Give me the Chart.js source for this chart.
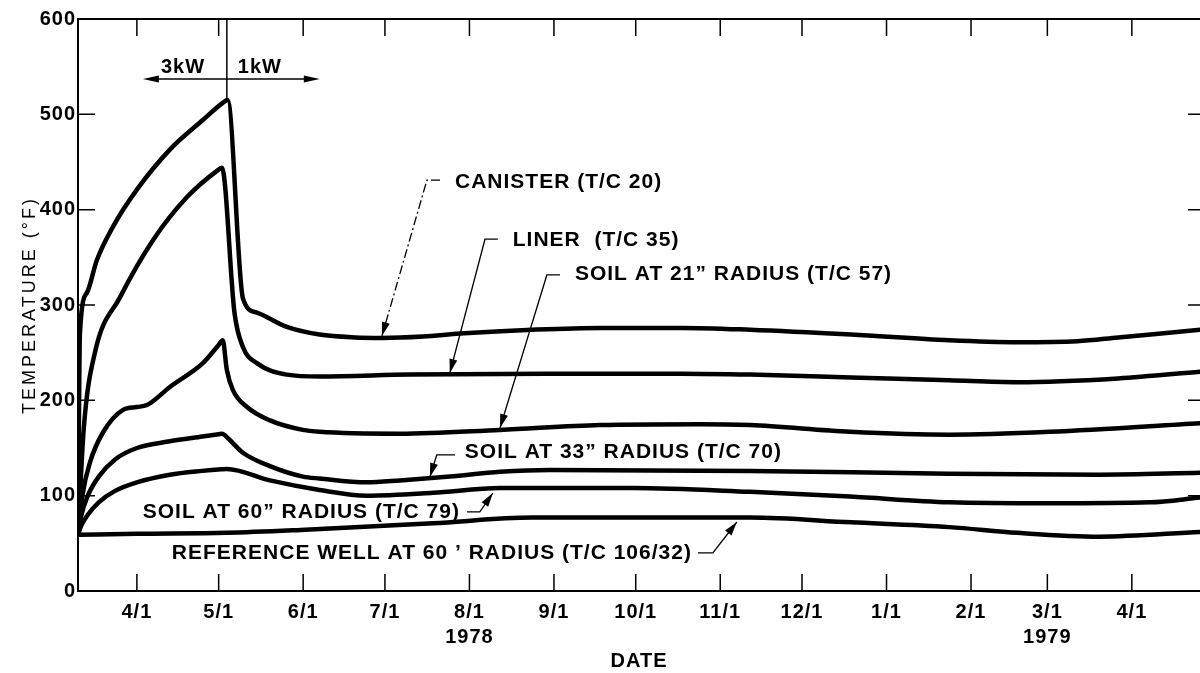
<!DOCTYPE html>
<html>
<head>
<meta charset="utf-8">
<script src="https://cdn.jsdelivr.net/npm/chart.js@4/dist/chart.umd.min.js"></script>
<style>
    html, body { margin: 0; padding: 0; background: #fff; }
</style>
</head>
<body>
<canvas id="myChart" width="1200" height="673"></canvas>
<script>
// x = days counted from 4/1/1978, y = temperature in deg F
const tickDays = [0, 30, 61, 91, 122, 153, 183, 214, 244, 275, 306, 334, 365];
const tickLabels = ['4/1', '5/1', '6/1', '7/1', ['8/1', '1978'], '9/1', '10/1', '11/1', '12/1', '1/1', '2/1', ['3/1', '1979'], '4/1'];
const yTicks = [0, 100, 200, 300, 400, 500, 600];

const canister = [[-21.6, 59], [-21.2, 200], [-20.9, 270], [-18.3, 313], [-14.7, 347], [-8.8, 382], [0, 421], [12.1, 463], [24.2, 494],
    [31.5, 512], [33.3, 515], [38.9, 307], [44, 292], [55, 277], [67, 269], [80, 266], [90, 265.5], [105, 267], [118.5, 270], [145, 274],
    [170, 276], [200, 276], [225, 274], [262, 269], [298, 263], [323, 261], [345, 262], [360, 266], [390, 274]];
const liner = [[-21.6, 59], [-19.5, 170], [-15.4, 250], [-6.2, 308], [5.9, 368], [18.3, 413], [29.5, 441], [31.2, 444], [35.8, 292],
    [38.9, 256], [44, 239], [55, 227], [67, 225], [100, 227], [150, 228], [200, 228], [225, 227], [262, 224], [298, 221], [323, 219],
    [360, 223], [390, 230]];
const soil21 = [[-21.6, 59], [-20, 100], [-17.2, 135], [-12.5, 166], [-5.1, 190], [0, 193], [3.7, 195], [12.1, 214], [24.2, 239],
    [30, 258], [31.5, 263], [33, 232], [35.2, 211], [40.4, 193], [48.8, 179], [60.9, 169], [67, 167], [96.5, 165], [133.2, 169],
    [169.8, 174], [206.5, 175], [224.9, 174], [261.6, 167], [298.2, 164], [334.9, 167], [390, 176]];
const soil33 = [[-21.6, 59], [-20.5, 78], [-18, 100], [-14, 120], [-8, 138], [0, 150], [12.1, 157], [24, 162], [30, 164.5], [31.2, 165],
    [33.5, 160], [38.9, 145], [48.8, 131], [60.9, 120], [67, 118], [84.4, 114], [96.5, 116], [114.8, 120], [133.2, 125], [151.5, 127],
    [224.9, 126], [298, 123], [353, 122], [390, 124]];
const soil60 = [[-21.6, 59], [-20.5, 68], [-18, 80], [-14, 93], [-8, 105], [0, 114], [12.1, 122], [24, 126], [31, 127.7], [33, 128],
    [48.8, 116], [67, 106], [84.4, 100], [108.6, 103], [133.2, 108], [182, 108], [224.9, 104], [261.6, 99], [298.2, 93], [334.9, 92],
    [371.6, 93], [390, 98]];
const refWell = [[-21.6, 59], [0, 60], [33, 61], [60, 64], [108.6, 71], [145, 77], [182, 77], [225, 77], [262, 72], [298, 67], [323, 61],
    [353, 57], [390, 62]];

// curve labels: text anchor and leader line (last point = arrow tip), in data units
const notes = [
    { text: 'CANISTER (T/C 20)', at: [116.7, 429], align: 'left', leader: [[111.2, 431], [106.4, 431], [89.9, 267.5]], dash: [9, 3, 2, 3] },
    { text: 'LINER  (T/C 35)', at: [137.9, 368], align: 'left', leader: [[132.4, 369], [127.7, 369], [114.8, 228.7]] },
    { text: 'SOIL AT 21\u201D RADIUS (T/C 57)', at: [160.7, 332.5], align: 'left', leader: [[155.2, 331.5], [150.4, 331.5], [133.2, 171]] },
    { text: 'SOIL AT 33\u201D RADIUS (T/C 70)', at: [120.3, 145.8], align: 'left', leader: [[116.7, 142.7], [110, 142.7], [107.5, 119.6]] },
    { text: 'SOIL AT 60\u201D RADIUS (T/C 79)', at: [118.5, 82.9], align: 'right', leader: [[121.1, 83], [125.8, 83], [130.6, 102.8]] },
    { text: 'REFERENCE WELL AT 60 \u2019 RADIUS (T/C 106/32)', at: [203.6, 39.9], align: 'right', leader: [[205.8, 39.9], [211.3, 39.9], [220.1, 72.4]] }
];

// 3kW -> 1kW power change
const switchDay = 33;
const switchTemp = 515;
const powerArrow = { from: 2.2, to: 67.1, temp: 537 };
const powerLabels = [{ text: '3kW', day: 16.9, temp: 549 }, { text: '1kW', day: 45.1, temp: 549 }];

const yTitle = 'TEMPERATURE (\u00B0F)';

function toPoints(arr) {
    return arr.map(p => ({ x: p[0], y: p[1] }));
}

function arrowHead(ctx, x0, y0, x1, y1, len, half) {
    const ang = Math.atan2(y1 - y0, x1 - x0);
    ctx.beginPath();
    ctx.moveTo(x1, y1);
    ctx.lineTo(x1 - len * Math.cos(ang) + half * Math.sin(ang), y1 - len * Math.sin(ang) - half * Math.cos(ang));
    ctx.lineTo(x1 - len * Math.cos(ang) - half * Math.sin(ang), y1 - len * Math.sin(ang) + half * Math.cos(ang));
    ctx.closePath();
    ctx.fill();
}

const framePlugin = {
    id: 'frame',
    beforeDraw(chart) {
        chart.ctx.letterSpacing = '1px';
    },
    afterDraw(chart) {
        const { ctx, chartArea: a, scales: { x, y } } = chart;
        ctx.save();
        ctx.strokeStyle = '#000';
        ctx.fillStyle = '#000';
        // top border
        ctx.lineWidth = 2;
        ctx.beginPath();
        ctx.moveTo(a.left, a.top);
        ctx.lineTo(a.right, a.top);
        ctx.stroke();
        // inward ticks on all sides
        ctx.lineWidth = 1.5;
        ctx.beginPath();
        tickDays.forEach(d => {
            const px = x.getPixelForValue(d);
            ctx.moveTo(px, a.bottom);
            ctx.lineTo(px, a.bottom - 17);
            ctx.moveTo(px, a.top);
            ctx.lineTo(px, a.top + 17);
        });
        yTicks.forEach(v => {
            const py = y.getPixelForValue(v);
            ctx.moveTo(a.left, py);
            ctx.lineTo(a.left + 17, py);
            ctx.moveTo(a.right, py);
            ctx.lineTo(a.right - 12, py);
        });
        ctx.stroke();

        // y axis title, drawn here to get wider letter spacing
        ctx.save();
        ctx.translate(30, (a.top + a.bottom) / 2);
        ctx.rotate(-Math.PI / 2);
        ctx.letterSpacing = '3px';
        ctx.font = '18px "Liberation Sans", Arial, sans-serif';
        ctx.textAlign = 'center';
        ctx.textBaseline = 'middle';
        ctx.fillText(yTitle, 0, 0);
        ctx.restore();
        ctx.letterSpacing = '1px';

        // power change marker
        const sx = x.getPixelForValue(switchDay);
        ctx.lineWidth = 1.5;
        ctx.beginPath();
        ctx.moveTo(sx, a.top);
        ctx.lineTo(sx, y.getPixelForValue(switchTemp));
        ctx.stroke();
        const ay = y.getPixelForValue(powerArrow.temp);
        const ax0 = x.getPixelForValue(powerArrow.from);
        const ax1 = x.getPixelForValue(powerArrow.to);
        ctx.beginPath();
        ctx.moveTo(ax0 + 10, ay);
        ctx.lineTo(ax1 - 10, ay);
        ctx.stroke();
        arrowHead(ctx, ax1 - 20, ay, ax1, ay, 16, 3.5);
        arrowHead(ctx, ax0 + 20, ay, ax0, ay, 16, 3.5);
        ctx.font = 'bold 20px "Liberation Sans", Arial, sans-serif';
        ctx.textAlign = 'center';
        ctx.textBaseline = 'middle';
        powerLabels.forEach(l => {
            ctx.fillText(l.text, x.getPixelForValue(l.day), y.getPixelForValue(l.temp));
        });

        // curve labels with leaders
        ctx.font = 'bold 21px "Liberation Sans", Arial, sans-serif';
        notes.forEach(n => {
            ctx.textAlign = n.align;
            ctx.fillText(n.text, x.getPixelForValue(n.at[0]), y.getPixelForValue(n.at[1]));
            const pts = n.leader.map(p => [x.getPixelForValue(p[0]), y.getPixelForValue(p[1])]);
            ctx.lineWidth = 1.3;
            ctx.setLineDash(n.dash || []);
            ctx.beginPath();
            ctx.moveTo(pts[0][0], pts[0][1]);
            for (let i = 1; i < pts.length; i++) {
                ctx.lineTo(pts[i][0], pts[i][1]);
            }
            ctx.stroke();
            ctx.setLineDash([]);
            const p0 = pts[pts.length - 2];
            const p1 = pts[pts.length - 1];
            arrowHead(ctx, p0[0], p0[1], p1[0], p1[1], 14, 4);
        });
        ctx.restore();
        ctx.letterSpacing = '0px';
    }
};

const series = [canister, liner, soil21, soil33, soil60, refWell];

const ctx = document.getElementById('myChart');
const myChart = new Chart(ctx, {
    type: 'line',
    data: {
        datasets: series.map(s => ({
            data: toPoints(s),
            borderColor: '#000',
            borderWidth: 4.5,
            pointRadius: 0,
            fill: false,
            cubicInterpolationMode: 'monotone',
            borderJoinStyle: 'round',
            borderCapStyle: 'round'
        }))
    },
    options: {
        responsive: false,
        animation: false,
        devicePixelRatio: 1,
        layout: {
            padding: { top: 19, right: 0, left: 0, bottom: 0 }
        },
        plugins: {
            legend: { display: false },
            tooltip: { enabled: false }
        },
        scales: {
            x: {
                type: 'linear',
                min: -21.6,
                max: 390,
                afterFit: (scale) => { scale.height = 82; },
                afterBuildTicks: (scale) => { scale.ticks = tickDays.map(v => ({ value: v })); },
                grid: { display: false, drawTicks: false },
                border: { display: true, color: '#000', width: 2 },
                ticks: {
                    autoSkip: false,
                    maxRotation: 0,
                    padding: 9,
                    color: '#000',
                    font: { family: '"Liberation Sans", Arial, sans-serif', size: 20, weight: 'bold', lineHeight: 1.25 },
                    callback: (val, i) => tickLabels[i]
                },
                title: {
                    display: true,
                    text: 'DATE',
                    color: '#000',
                    font: { family: '"Liberation Sans", Arial, sans-serif', size: 20, weight: 'bold' },
                    padding: { top: 0, bottom: 0 }
                }
            },
            y: {
                min: 0,
                max: 600,
                afterFit: (scale) => { scale.width = 78; },
                afterBuildTicks: (scale) => { scale.ticks = yTicks.map(v => ({ value: v })); },
                grid: { display: false, drawTicks: false },
                border: { display: true, color: '#000', width: 2 },
                ticks: {
                    padding: 2,
                    color: '#000',
                    font: { family: '"Liberation Sans", Arial, sans-serif', size: 20, weight: 'bold' }
                }
            }
        }
    },
    plugins: [framePlugin]
});
</script>
</body>
</html>
